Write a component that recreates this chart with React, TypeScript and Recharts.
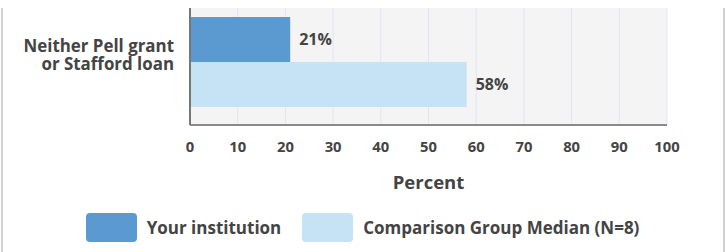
import React from 'react';
import {
  BarChart,
  Bar,
  XAxis,
  YAxis,
  CartesianGrid,
  LabelList,
  Legend,
} from 'recharts';

const categories = ['Neither Pell grant\nor Stafford loan'];
const yourInstitution = [21];
const comparisonMedian = [58];
const percentTicks = [0, 10, 20, 30, 40, 50, 60, 70, 80, 90, 100];

const seriesNames = ['Your institution', 'Comparison Group Median (N=8)'];
const DARK = '#5a9ad0';
const LIGHT = '#c6e3f6';
const TEXT = '#444';
const FONT = '"Open Sans", Arial, sans-serif';

const data = categories.map((c, i) => ({
  name: c,
  mine: yourInstitution[i],
  median: comparisonMedian[i],
}));

const CategoryTick = ({ x, y, payload }: any) => {
  const lines = String(payload.value).split('\n');
  return (
    <text x={x - 8} y={y} textAnchor="end" fill={TEXT} fontSize={16.9} fontWeight={700} fontFamily={FONT}>
      {lines.map((l, i) => (
        <tspan key={i} x={x - 8} y={y - 10.5 + i * 18}>
          {l}
        </tspan>
      ))}
    </text>
  );
};

const LegendContent = () => {
  const items = [
    { name: seriesNames[0], color: DARK },
    { name: seriesNames[1], color: LIGHT },
  ];
  return (
    <div style={{ display: 'flex', justifyContent: 'center', alignItems: 'center', gap: 21, paddingTop: 6 }}>
      {items.map((it) => (
        <div key={it.name} style={{ display: 'flex', alignItems: 'center', gap: 10 }}>
          <span
            style={{
              width: 51,
              height: 29,
              flexShrink: 0,
              borderRadius: 4,
              backgroundColor: it.color,
              display: 'inline-block',
            }}
          />
          <span style={{ fontFamily: FONT, fontWeight: 700, fontSize: 17, color: TEXT, whiteSpace: 'nowrap' }}>
            {it.name}
          </span>
        </div>
      ))}
    </div>
  );
};

export default function App() {
  return (
    <div style={{ position: 'absolute', left: 0, top: 0, width: 725, height: 252, background: '#fff' }}>
      <div
        style={{
          position: 'absolute',
          left: 1,
          top: 8,
          width: 720,
          height: 244,
          borderLeft: '2px solid #d0d0d0',
          borderRight: '2px solid #d0d0d0',
        }}
      />
      <BarChart
        width={725}
        height={252}
        data={data}
        layout="vertical"
        margin={{ top: 8, right: 58, bottom: 5, left: 0 }}
        barCategoryGap={9}
        barGap={0}
      >
        <CartesianGrid horizontal={false} fill="#f4f4f4" stroke="#e1e6f0" />
        <XAxis
          type="number"
          domain={[0, 100]}
          ticks={percentTicks}
          height={82}
          tickLine={false}
          tickSize={0}
          tickMargin={16}
          axisLine={{ stroke: '#8a8a8a', strokeWidth: 2 }}
          tick={{ fill: TEXT, fontSize: 14.8, fontWeight: 700, fontFamily: FONT }}
          label={{
            value: 'Percent',
            position: 'insideBottom',
            offset: 18,
            fill: TEXT,
            fontSize: 18.5,
            fontWeight: 700,
            fontFamily: FONT,
          }}
        />
        <YAxis
          type="category"
          dataKey="name"
          width={190}
          padding={{ top: 0, bottom: 9 }}
          tickLine={false}
          axisLine={{ stroke: '#777', strokeWidth: 2 }}
          tick={<CategoryTick />}
        />
        <Legend verticalAlign="bottom" height={40} content={<LegendContent />} wrapperStyle={{ left: 0, width: 725 }} />
        <Bar dataKey="mine" name={seriesNames[0]} fill={DARK} isAnimationActive={false}>
          <LabelList
            dataKey="mine"
            position="right"
            offset={9}
            formatter={(v: any) => `${v}%`}
            fill={TEXT}
            fontSize={16}
            fontWeight={700}
            fontFamily={FONT}
          />
        </Bar>
        <Bar dataKey="median" name={seriesNames[1]} fill={LIGHT} isAnimationActive={false}>
          <LabelList
            dataKey="median"
            position="right"
            offset={9}
            formatter={(v: any) => `${v}%`}
            fill={TEXT}
            fontSize={16}
            fontWeight={700}
            fontFamily={FONT}
          />
        </Bar>
      </BarChart>
    </div>
  );
}
